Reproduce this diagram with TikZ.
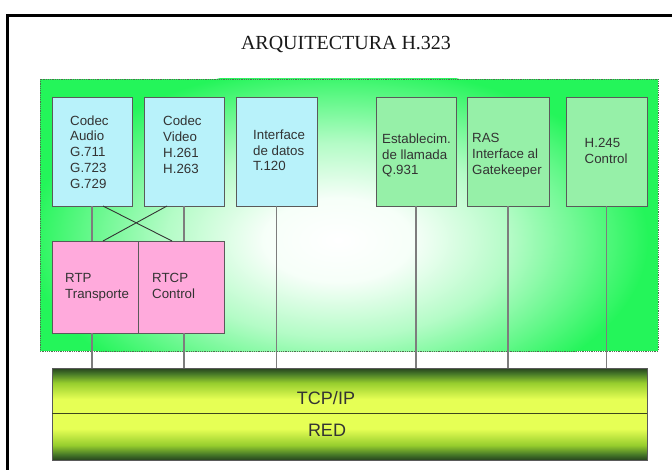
\documentclass[tikz,border=0pt]{standalone}
\usepackage{fontspec}
\setmainfont{Liberation Sans}
\newfontfamily\titlefont{Liberation Serif}
\usetikzlibrary{calc}
\definecolor{bggreen}{RGB}{36,245,90}
\definecolor{boxblue}{RGB}{184,242,250}
\definecolor{boxpink}{RGB}{255,170,220}
\definecolor{boxgreen}{RGB}{150,240,168}
\definecolor{boxline}{RGB}{90,90,90}
\definecolor{wiregray}{RGB}{125,125,125}
\definecolor{dotline}{RGB}{80,110,80}
\definecolor{bardark}{RGB}{38,66,30}
\definecolor{bardk2}{RGB}{70,120,40}
\definecolor{barmid}{RGB}{150,205,45}
\definecolor{baryellow}{RGB}{230,255,85}
\definecolor{bardiv}{RGB}{60,70,30}
\pgfdeclareverticalshading{barshade}{100bp}{color(0bp)=(bardark); color(25bp)=(bardark); color(28bp)=(bardk2); color(33bp)=(barmid); color(42bp)=(baryellow); color(58bp)=(baryellow); color(67bp)=(barmid); color(72bp)=(bardk2); color(75bp)=(bardark); color(100bp)=(bardark)}
\pgfdeclareradialshading{glow}{\pgfpointorigin}{color(0bp)=(white); color(6bp)=(white!96!bggreen); color(14bp)=(white!65!bggreen); color(20bp)=(white!30!bggreen); color(25bp)=(bggreen); color(50bp)=(bggreen)}
\begin{document}
\begin{tikzpicture}[x=1pt,y=-1pt,
  box/.style={draw=boxline, line width=0.8pt, inner sep=0pt, outer sep=0pt, anchor=north west},
  lbl/.style={anchor=north west, inner sep=0pt, align=left, font=\fontsize{13.3}{15.8}\selectfont, text=black!80},
  barlbl/.style={anchor=base, inner sep=0pt, font=\fontsize{18}{20}\selectfont, text=black!80},
  wire/.style={draw=wiregray, line width=1.1pt},
  crossw/.style={draw=black!80, line width=0.9pt}]
\useasboundingbox (0,0) rectangle (672,470);
\fill[white] (0,0) rectangle (672,470);
\begin{scope}
  \clip (0,0) rectangle (672,470);
  \draw[line width=3pt] (7.5,15.5) rectangle (700,500);
\end{scope}
\node[font=\titlefont\fontsize{20}{24}\selectfont, inner sep=0pt, text=black!90] (title) at (346,45) {ARQUITECTURA H.323};
% green area
\node[inner sep=0pt, outer sep=0pt, minimum width=618pt, minimum height=272pt, anchor=north west] (area) at (40,79) {};
\begin{scope}
  \clip (area.north west) rectangle (area.south east);
  \fill[bggreen] (area.north west) rectangle (area.south east);
  \shade[shading=glow] (338,240) ellipse [x radius=310, y radius=175];
\end{scope}
\draw[densely dotted, draw=dotline, line width=0.8pt] (area.north west) rectangle (area.south east);
% boxes
\node[box, fill=boxblue, minimum width=80pt, minimum height=109pt] (audio) at (52,97) {};
\node[box, fill=boxblue, minimum width=80pt, minimum height=109pt] (video) at (144,97) {};
\node[box, fill=boxblue, minimum width=81pt, minimum height=109pt] (iface) at (236,97) {};
\node[box, fill=boxgreen, minimum width=80pt, minimum height=109pt] (estab) at (376,97) {};
\node[box, fill=boxgreen, minimum width=82pt, minimum height=109pt] (ras) at (467,97) {};
\node[box, fill=boxgreen, minimum width=81pt, minimum height=109pt] (h245) at (566,97) {};
\node[box, fill=boxpink, minimum width=86pt, minimum height=92pt] (rtp) at (52,241) {};
\node[box, fill=boxpink, minimum width=86pt, minimum height=92pt] (rtcp) at (138,241) {};
\node[box, shading=barshade, minimum width=595pt, minimum height=92pt] (bar) at (52,368) {};
\draw[draw=bardiv, line width=0.9pt] ($(bar.north west)+(0,45)$) -- ($(bar.north east)+(0,45)$);
% labels
\node[lbl] (audiotxt) at (70,115.3) {Codec\\Audio\\G.711\\G.723\\G.729};
\node[lbl] (videotxt) at (163,116) {Codec\\Video\\H.261\\H.263};
\node[lbl] (ifacetxt) at (253,129.5) {Interface\\de datos\\T.120};
\node[lbl] (estabtxt) at (382,133.5) {Establecim.\\de llamada\\Q.931};
\node[lbl] (rastxt) at (472,133.5) {RAS\\Interface al\\Gatekeeper};
\node[lbl] (h245txt) at (584.5,138.5) {H.245\\Control};
\node[lbl] (rtptxt) at (65,273) {RTP\\Transporte};
\node[lbl] (rtcptxt) at (152,273) {RTCP\\Control};
\node[barlbl] (tcptxt) at (326,404.5) {TCP/IP};
\node[barlbl] (redtxt) at (327,436.5) {RED};
% connectors
\draw[wire] (audio.south) -- (audio.south |- rtp.north);
\draw[wire] (video.south) -- (video.south |- rtcp.north);
\draw[crossw] ($(audio.south)+(11,0)$) -- ($(rtcp.north)+(-9,0)$);
\draw[crossw] ($(video.south)+(-17,0)$) -- ($(rtp.north)+(8,0)$);
\draw[wire] (audio.south |- rtp.south) -- (audio.south |- bar.north);
\draw[wire] (video.south |- rtcp.south) -- (video.south |- bar.north);
\draw[wire] (iface.south) -- (iface.south |- bar.north);
\draw[wire] (estab.south) -- (estab.south |- bar.north);
\draw[wire] (ras.south) -- (ras.south |- bar.north);
\draw[wire] (h245.south) -- (h245.south |- bar.north);
\end{tikzpicture}
\end{document}
